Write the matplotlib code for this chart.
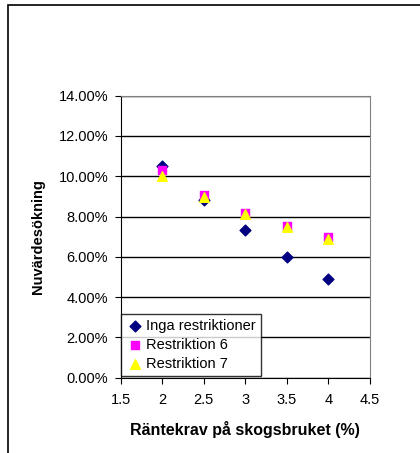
import matplotlib
matplotlib.use("Agg")
import matplotlib.pyplot as plt
from matplotlib.patches import Rectangle
from matplotlib.ticker import FuncFormatter, MultipleLocator

plt.rcParams['font.family'] = ['Liberation Sans', 'DejaVu Sans']

x = [2, 2.5, 3, 3.5, 4]
inga = [10.53, 8.83, 7.35, 6.0, 4.88]
restr6 = [10.3, 9.08, 8.2, 7.55, 6.97]
restr7 = [10.03, 8.98, 8.15, 7.48, 6.9]
labels = ["Inga restriktioner", "Restriktion 6", "Restriktion 7"]

fig = plt.figure(figsize=(4.2, 4.53), dpi=100)
fig.patches.append(Rectangle((8/420, -0.1), 1.2, 1 - 5/453 + 0.1, transform=fig.transFigure,
                             fill=False, edgecolor='black', linewidth=1.2))
ax = fig.add_axes([120.7/420, 1-377.7/453, (370-120.7)/420, (377.7-95.7)/453])

ax.scatter(x, inga, marker='D', s=30, color='#000080', label=labels[0], zorder=3)
ax.scatter(x, restr6, marker='s', s=36, color='#FF00FF', label=labels[1], zorder=4)
ax.scatter(x, restr7, marker='^', s=48, color='#FFFF00', label=labels[2], zorder=5)

ax.set_xlim(1.5, 4.5)
ax.set_ylim(0, 14)
ax.xaxis.set_major_locator(MultipleLocator(0.5))
ax.yaxis.set_major_locator(MultipleLocator(2))
ax.xaxis.set_major_formatter(FuncFormatter(lambda v, p: f"{v:g}"))
ax.yaxis.set_major_formatter(FuncFormatter(lambda v, p: f"{v:.2f}%"))
ax.grid(axis='y', color='black', linewidth=1)
ax.set_axisbelow(True)
for s in ['top', 'right']:
    ax.spines[s].set_color('#808080')
for s in ['left', 'bottom']:
    ax.spines[s].set_color('black')
ax.tick_params(axis='both', direction='out', length=4, labelsize=10.5, colors='black')
ax.tick_params(axis='x', pad=7)
ax.tick_params(axis='y', pad=5)
ax.set_xlabel("Räntekrav på skogsbruket (%)", fontsize=11.5, fontweight='bold', labelpad=10)
ax.set_ylabel("Nuvärdesökning", fontsize=10.5, fontweight='bold', labelpad=10)

leg = ax.legend(loc='lower left', bbox_to_anchor=(0.0, 0.005), frameon=True, fancybox=False,
                edgecolor='black', fontsize=10.5, handletextpad=0.2, borderpad=0.35,
                labelspacing=0.35, handlelength=1.2, borderaxespad=0)
leg.get_frame().set_linewidth(1)

fig.savefig("out.png", dpi=100)
